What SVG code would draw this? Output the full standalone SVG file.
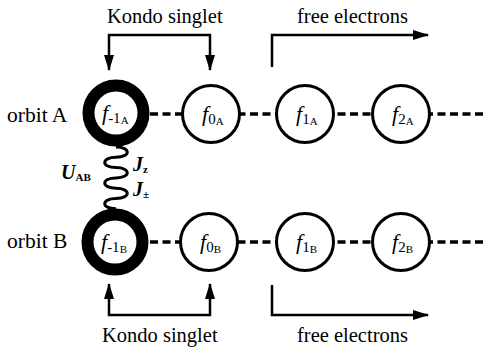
<svg xmlns="http://www.w3.org/2000/svg" width="485" height="350" viewBox="0 0 485 350">
<defs>
<marker id="ah" markerUnits="userSpaceOnUse" markerWidth="16" markerHeight="10" refX="15" refY="5" orient="auto-start-reverse"><path d="M0,0 L16,5 L0,10 Z" fill="#000"/></marker>
</defs>
<style>
.lbl{font-family:"Liberation Serif","Times New Roman",serif;font-size:20.5px;fill:#000}
.f{font-family:"Liberation Serif","Times New Roman",serif;font-style:italic;font-size:22px;fill:#000}
.sub{font-style:normal;font-size:15px}
.ss{font-style:normal;font-size:11px}
.node{fill:#fff;stroke:#000;stroke-width:3}
.thick{fill:#fff;stroke:#000;stroke-width:12}
.dash{stroke:#000;stroke-width:3.5;stroke-dasharray:8 4.5;fill:none}
.arr{stroke:#000;stroke-width:2.5;fill:none}
.bi{font-family:"Liberation Serif","Times New Roman",serif;font-weight:bold;font-style:italic;font-size:20px;fill:#000}
.bs{font-style:normal;font-size:11px}
</style>
<rect width="485" height="350" fill="#fff"/>
<g id="connectors">
<line class="dash" x1="150" y1="114" x2="485" y2="114"/>
<line class="dash" x1="150" y1="242" x2="485" y2="242"/>
<path class="arr" d="M109,70 V35 H210 V70" marker-start="url(#ah)" marker-end="url(#ah)"/>
<path class="arr" d="M272,67 V35 H428" marker-end="url(#ah)"/>
<path class="arr" d="M109,284 V315 H210 V284" marker-start="url(#ah)" marker-end="url(#ah)"/>
<path class="arr" d="M272,285 V315 H428" marker-end="url(#ah)"/>
<path id="spring" fill="none" stroke="#000" stroke-width="3" d="M116,147 c15,0 15,10.3 0,10.3 c-15,0 -15,10.3 0,10.3 c15,0 15,10.3 0,10.3 c-15,0 -15,10.3 0,10.3 c15,0 15,10.3 0,10.3 c-15,0 -15,10.3 0,10.3"/>
</g>
<g id="labels">
<text class="lbl" x="107" y="23">Kondo singlet</text>
<text class="lbl" x="297" y="23">free electrons</text>
<text class="lbl" x="102" y="342">Kondo singlet</text>
<text class="lbl" x="297" y="342">free electrons</text>
<text class="lbl" x="7" y="122" style="font-size:21.5px">orbit A</text>
<text class="lbl" x="7" y="248" style="font-size:21.5px">orbit B</text>
<text class="bi" x="61" y="179">U<tspan class="bs" dy="2">AB</tspan></text>
<text class="bi" x="133" y="171">J<tspan class="bs" dy="2">z</tspan></text>
<text class="bi" x="133" y="196">J<tspan class="bs" dy="2">±</tspan></text>
</g>
<g id="node-fm1A"><circle class="thick" cx="116" cy="113" r="27.5"/><text class="f" x="102" y="120">f<tspan class="sub" dy="3">-1</tspan><tspan class="ss" dy="1">A</tspan></text></g>
<g id="node-f0A"><circle class="node" cx="211" cy="114" r="28.5"/><text class="f" x="202" y="121">f<tspan class="sub" dy="3">0</tspan><tspan class="ss" dy="1">A</tspan></text></g>
<g id="node-f1A"><circle class="node" cx="305" cy="114" r="28.5"/><text class="f" x="296" y="121">f<tspan class="sub" dy="3">1</tspan><tspan class="ss" dy="1">A</tspan></text></g>
<g id="node-f2A"><circle class="node" cx="401" cy="114" r="28.5"/><text class="f" x="392" y="121">f<tspan class="sub" dy="3">2</tspan><tspan class="ss" dy="1">A</tspan></text></g>
<g id="node-fm1B"><circle class="thick" cx="115" cy="242" r="27.5"/><text class="f" x="101" y="249">f<tspan class="sub" dy="3">-1</tspan><tspan class="ss" dy="1">B</tspan></text></g>
<g id="node-f0B"><circle class="node" cx="209" cy="242" r="28.5"/><text class="f" x="200" y="249">f<tspan class="sub" dy="3">0</tspan><tspan class="ss" dy="1">B</tspan></text></g>
<g id="node-f1B"><circle class="node" cx="305" cy="242" r="28.5"/><text class="f" x="296" y="249">f<tspan class="sub" dy="3">1</tspan><tspan class="ss" dy="1">B</tspan></text></g>
<g id="node-f2B"><circle class="node" cx="401" cy="242" r="28.5"/><text class="f" x="392" y="249">f<tspan class="sub" dy="3">2</tspan><tspan class="ss" dy="1">B</tspan></text></g>
</svg>
